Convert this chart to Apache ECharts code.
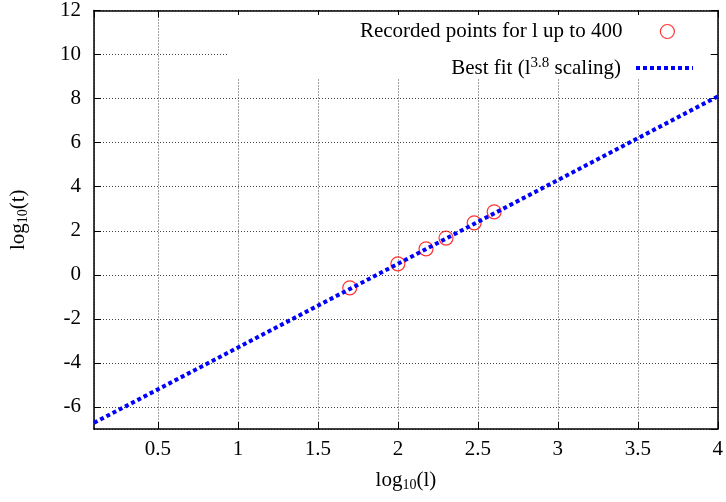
<!DOCTYPE html>
<html>
<head>
<meta charset="utf-8">
<script src="https://cdn.jsdelivr.net/npm/echarts@6/dist/echarts.min.js"></script>
<style>html,body{margin:0;padding:0;background:#fff}#c{width:726px;height:502px}</style>
</head>
<body>
<div id="c"></div>
<script>
// Data
const recordedX = [1.699, 2.0, 2.176, 2.301, 2.477, 2.602];
const recordedY = [-0.59, 0.50, 1.18, 1.67, 2.36, 2.86];
const fitX = [0.1, 4.0];
const fitY = [-6.72, 8.10];
const xRange = [0.1, 4];
const yRange = [-7, 12];
const seriesNames = ['Recorded points for l up to 400', 'Best fit (l^3.8 scaling)'];

const FONT = 'Liberation Serif';
const FS = 21;

const chart = echarts.init(document.getElementById('c'), null, {renderer: 'canvas'});

const splitLine = {show: true, lineStyle: {color: '#444', width: 1, type: [1, 2]}};
const axisLine = {show: true, onZero: false, lineStyle: {color: '#000', width: 1.5}};
const tick = {show: true, inside: true, length: 7, lineStyle: {color: '#000', width: 1}};

const option = {
  animation: false,
  backgroundColor: '#fff',
  textStyle: {fontFamily: FONT},
  grid: {left: 94, right: 6, top: 6, bottom: 73, containLabel: false},
  graphic: [{
    type: 'rect', z: 1,
    shape: {x: 227, y: 15, width: 483, height: 63},
    style: {fill: '#fff'}
  }],
  xAxis: [{
    type: 'value', position: 'bottom',
    min: xRange[0], max: xRange[1], splitNumber: 8,
    axisLine: axisLine, axisTick: tick, splitLine: splitLine,
    axisLabel: {showMinLabel: false, color: '#000', fontFamily: FONT, fontSize: FS, margin: 10},
    name: '{a|log}{s|10}{a|(l)}', nameLocation: 'middle', nameGap: 40,
    nameTextStyle: {rich: {
      a: {fontFamily: FONT, fontSize: FS, color: '#000'},
      s: {fontFamily: FONT, fontSize: 14, color: '#000', verticalAlign: 'bottom', padding: [9, 0, 0, 0]}
    }}
  }, {
    type: 'value', position: 'top',
    min: xRange[0], max: xRange[1], splitNumber: 8,
    axisLine: axisLine, axisTick: tick, splitLine: {show: false}, axisLabel: {show: false}
  }],
  yAxis: [{
    type: 'value', position: 'left',
    min: yRange[0], max: yRange[1], splitNumber: 10,
    axisLine: axisLine, axisTick: tick, splitLine: splitLine,
    axisLabel: {showMinLabel: false, color: '#000', fontFamily: FONT, fontSize: FS, margin: 13},
    name: '{a|log}{s|10}{a|(t)}', nameLocation: 'middle', nameGap: 64, nameRotate: 90,
    nameTextStyle: {rich: {
      a: {fontFamily: FONT, fontSize: FS, color: '#000'},
      s: {fontFamily: FONT, fontSize: 14, color: '#000', verticalAlign: 'bottom', padding: [9, 0, 0, 0]}
    }}
  }, {
    type: 'value', position: 'right',
    min: yRange[0], max: yRange[1], splitNumber: 10,
    axisLine: axisLine, axisTick: tick, splitLine: {show: false}, axisLabel: {show: false}
  }],
  legend: [{
    data: [seriesNames[0]], right: 51, top: 21, orient: 'vertical', align: 'right',
    itemWidth: 14, itemHeight: 14, padding: 0,
    itemStyle: {color: 'rgba(0,0,0,0)', borderColor: '#ff0000', borderWidth: 1.2},
    textStyle: {fontFamily: FONT, fontSize: FS, color: '#000', padding: [0, 33, 0, 0]}
  }, {
    data: [seriesNames[1]], right: 31, top: 56, orient: 'vertical', align: 'right',
    itemWidth: 57, itemHeight: 6, padding: 0,
    lineStyle: {color: '#0000ff', width: 4, type: [4, 3]},
    itemStyle: {color: 'rgba(0,0,0,0)', borderWidth: 0},
    formatter: function () { return '{a|Best fit (l}{p|3.8}{a| scaling)}'; },
    textStyle: {fontFamily: FONT, fontSize: FS, color: '#000', padding: [0, 10, 0, 0],
      rich: {
        a: {fontFamily: FONT, fontSize: FS, color: '#000'},
        p: {fontFamily: FONT, fontSize: 15, color: '#000', verticalAlign: 'top', padding: [0, 0, 9, 0]}
      }}
  }],
  series: [{
    name: seriesNames[0], type: 'scatter', z: 2,
    symbol: 'circle', symbolSize: 14,
    itemStyle: {color: 'rgba(0,0,0,0)', borderColor: '#ff0000', borderWidth: 1.2},
    data: recordedX.map((x, i) => [x, recordedY[i]])
  }, {
    name: seriesNames[1], type: 'line', z: 3,
    showSymbol: false, symbol: 'none',
    lineStyle: {color: '#0000ff', width: 4, type: [4, 3]},
    itemStyle: {color: '#0000ff'},
    data: fitX.map((x, i) => [x, fitY[i]])
  }]
};
chart.setOption(option);
</script>
</body>
</html>
